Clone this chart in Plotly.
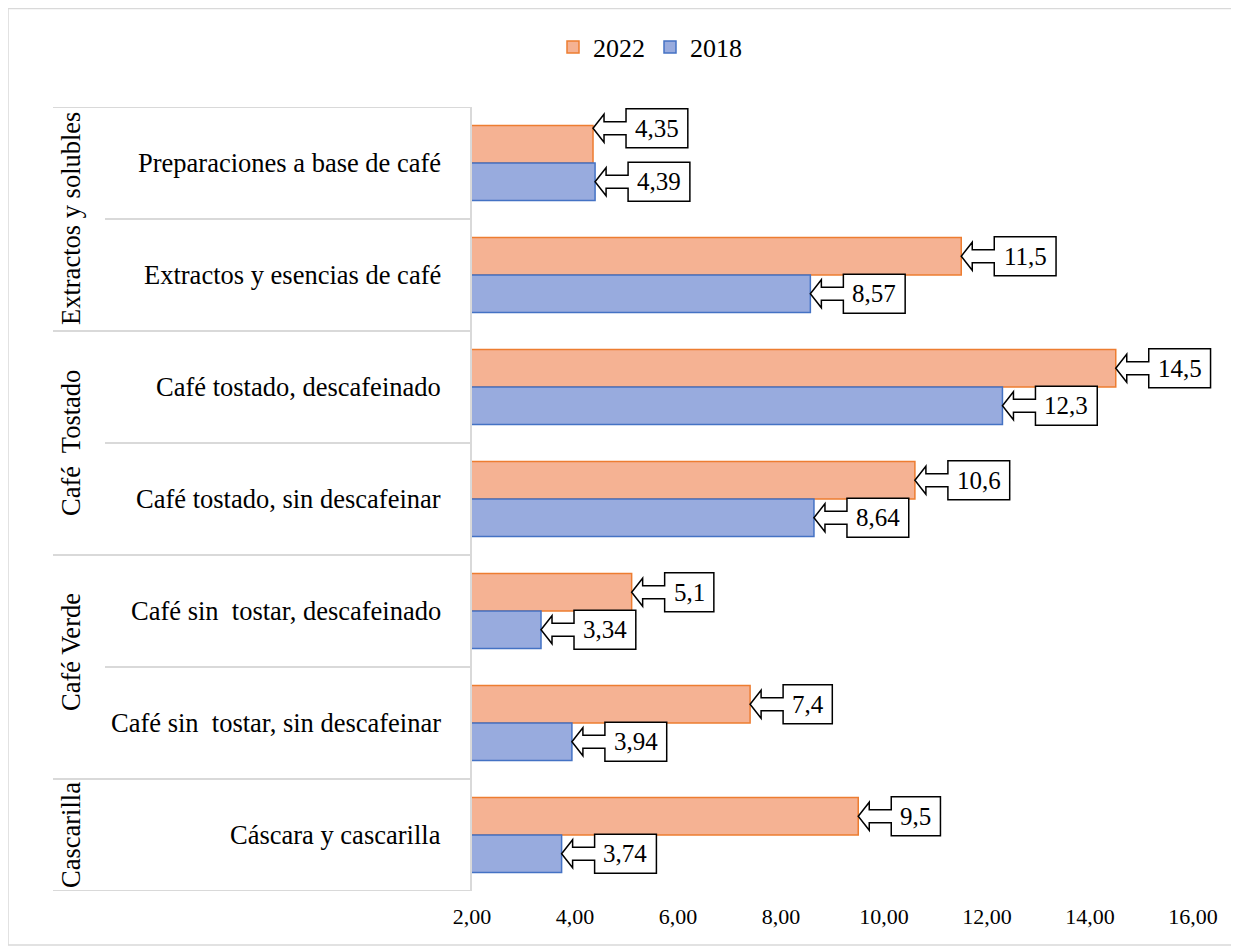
import plotly.graph_objects as go

# ---------------- data ----------------
categories = [
    "Preparaciones a base de café",
    "Extractos y esencias de café",
    "Café tostado, descafeinado",
    "Café tostado, sin descafeinar",
    "Café sin  tostar, descafeinado",
    "Café sin  tostar, sin descafeinar",
    "Cáscara y cascarilla",
]
groups = ["Extractos y solubles", "Café  Tostado", "Café Verde", "Cascarilla"]
group_sizes = [2, 2, 2, 1]
series_names = ["2022", "2018"]
values_2022 = [4.35, 11.5, 14.5, 10.6, 5.1, 7.4, 9.5]
values_2018 = [4.39, 8.57, 12.3, 8.64, 3.34, 3.94, 3.74]
tick_values = [2, 4, 6, 8, 10, 12, 14, 16]
tick_labels = ["2,00", "4,00", "6,00", "8,00", "10,00", "12,00", "14,00", "16,00"]

# ---------------- style ----------------
FONT = "Liberation Serif, Times New Roman, serif"
OFF = 8                      # page body margin of the browser
W, H = 1239 - OFF, 947 - OFF
PLOT_RIGHT = 1228            # absolute px; axis 16 sits at 1193
PX_PER_UNIT = 51.5
ML, MT, MB = 472 - OFF, 107 - OFF, 56
MR = (1239 - PLOT_RIGHT)
PW, PH = W - ML - MR, H - MT - MB
X_MIN = 2
X_MAX = X_MIN + PW / PX_PER_UNIT
BAR_W = 0.335
fills = {"2022": "#F5B293", "2018": "#98ABDE"}
edges = {"2022": "#ED7D31", "2018": "#4472C4"}
GRID = "#D9D9D9"
label_nudge = {("2022", 0): 16}   # callout moved upward (pixels)
group_nudge = {"Café Verde": 15}  # group label shifted upward (pixels)


def px_to_paper_x(px):
    return (px - OFF - ML) / PW


def px_to_paper_y(py):
    return (H - MB - (py - OFF)) / PH


def fmt(v):
    return ("%g" % v).replace(".", ",")


def text_w(s, size):
    w = 0.0
    for ch in s:
        w += 0.25 if ch == "," else 0.5
    return w * size


ypos = list(range(len(categories)))

fig = go.Figure()
series = [("2022", values_2022, -BAR_W), ("2018", values_2018, 0.0)]
for name, vals, off in series:
    fig.add_trace(go.Bar(
        name=name, x=vals, y=ypos, orientation="h",
        width=BAR_W, offset=off,
        marker=dict(color=fills[name], line=dict(color=edges[name], width=1.5)),
    ))

shapes = []
annotations = []

# callouts
LBL = 25
for name, vals, off in series:
    for i, v in enumerate(vals):
        yc = i + off + BAR_W / 2
        dy = label_nudge.get((name, i), 0)
        txt = fmt(v)
        bw = text_w(txt, LBL) + 18
        gap, head, hh, sh, bh = 33, 11, 14, 6.5, 19.5
        pts = [(0, 0 + dy), (head, hh + dy), (head, sh + dy), (gap, sh + dy), (gap, bh + dy),
               (gap + bw, bh + dy), (gap + bw, -bh + dy), (gap, -bh + dy), (gap, -sh + dy),
               (head, -sh + dy), (head, -hh + dy)]
        path = "M" + " L".join("%.1f,%.1f" % p for p in pts) + " Z"
        shapes.append(dict(type="path", path=path, xref="x", yref="y",
                           xsizemode="pixel", ysizemode="pixel", xanchor=v, yanchor=yc,
                           line=dict(color="black", width=1.5), fillcolor="white", layer="above"))
        annotations.append(dict(x=v, y=yc, xref="x", yref="y", text=txt, showarrow=False,
                                xanchor="center", yanchor="middle",
                                xshift=gap + bw / 2, yshift=dy,
                                font=dict(family=FONT, size=LBL, color="black")))

# category labels
for i, c in enumerate(categories):
    annotations.append(dict(x=0, y=i, xref="paper", yref="y", text=c, showarrow=False,
                            xanchor="right", yanchor="middle", xshift=-29,
                            font=dict(family=FONT, size=26.5, color="black")))

# group labels and separator lines
start = 0
group_bounds = [-0.5]
for g, n in zip(groups, group_sizes):
    center = start + (n - 1) / 2
    annotations.append(dict(x=0, y=center, xref="paper", yref="y", text=g, showarrow=False,
                            textangle=-90, xanchor="center", yanchor="middle", xshift=71 - 472,
                            yshift=group_nudge.get(g, 0),
                            font=dict(family=FONT, size=26.5, color="black")))
    start += n
    group_bounds.append(start - 0.5)

for k in range(len(categories) + 1):
    b = k - 0.5
    x0 = px_to_paper_x(53) if b in group_bounds else px_to_paper_x(105)
    shapes.append(dict(type="line", xref="paper", yref="y", x0=x0, x1=0, y0=b, y1=b,
                       line=dict(color=GRID, width=2), layer="below"))

# chart border
shapes.append(dict(type="rect", xref="paper", yref="paper",
                   x0=px_to_paper_x(8), x1=px_to_paper_x(1237),
                   y0=px_to_paper_y(945), y1=px_to_paper_y(8.5),
                   line=dict(color=GRID, width=1.5), fillcolor="rgba(0,0,0,0)", layer="below"))

fig.update_layout(
    width=W, height=H,
    margin=dict(l=ML, r=MR, t=MT, b=MB),
    paper_bgcolor="white", plot_bgcolor="white",
    barmode="overlay",
    font=dict(family=FONT, color="black"),
    showlegend=True,
    legend=dict(orientation="h", x=px_to_paper_x(650), xanchor="center",
                y=px_to_paper_y(47), yanchor="middle", itemwidth=30,
                font=dict(family=FONT, size=26, color="black"), traceorder="normal",
                bgcolor="rgba(0,0,0,0)"),
    xaxis=dict(range=[X_MIN, X_MAX], tickvals=tick_values, ticktext=tick_labels,
               showgrid=False, zeroline=False, showline=False, ticks="",
               ticklabelstandoff=10,
               tickfont=dict(family=FONT, size=22, color="black")),
    yaxis=dict(range=[len(categories) - 0.5, -0.5], showticklabels=False, ticks="",
               showgrid=False, zeroline=False, showline=True, linecolor=GRID, linewidth=2),
    shapes=shapes,
    annotations=annotations,
)

fig.write_html("out.html")
